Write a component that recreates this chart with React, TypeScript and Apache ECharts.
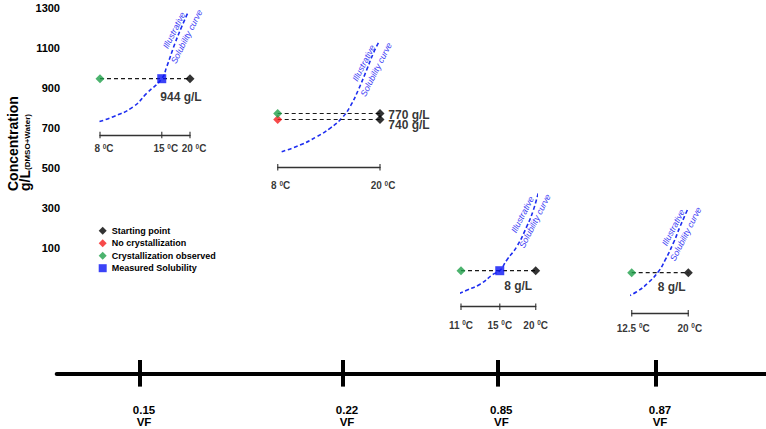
import React, { useEffect, useRef } from 'react';
import * as echarts from 'echarts';

const FONT = 'Liberation Sans, Arial, Helvetica, sans-serif';
const BLUE_CURVE = '#1f2ff0';
const BLUE_TEXT = '#3b3bf5';
const GREEN = '#1fa04a';
const RED = '#f51d1d';
const BLUE_SQ = '#0a14f5';

// ---- data ----
const concMin = 100;
const concMax = 1300;
const concStep = 200;
const vfLabels = ['0.15', '0.22', '0.85', '0.87'];
const seriesNames = ['Starting point', 'No crystallization', 'Crystallization observed', 'Measured Solubility'];

// temperatures (°C) marked on each panel's ruler
const p1Temps = [8, 15, 20];
const p2Temps = [8, 20];
const p3Temps = [11, 15, 20];
const p4Temps = [12.5, 20];

// starting concentrations (g/L) at 20 °C
const p1Start = [944];
const p2Start = [770, 740];
const p3Start = [8];
const p4Start = [8];

// [temperature, concentration]
const p1Cryst = [[8, 944]];
const p2Cryst = [[8, 770]];
const p3Cryst = [[11, 8]];
const p4Cryst = [[12.5, 8]];
const p2NoCryst = [[8, 740]];
const p1Sol = [[15, 944]];
const p3Sol = [[15, 8]];

// illustrative solubility curves
const curve1T = [7.47, 9.16, 11.23, 12.87, 15, 15.78, 17.17, 18.38, 19.66];
const curve1C = [721, 754, 804, 871, 944, 1004, 1121, 1204, 1279];
const curve2T = [8.29, 9.77, 11.34, 12.78, 14.19, 15.29, 16.47, 17.75, 18.84, 19.82];
const curve2C = [579, 612, 654, 696, 746, 804, 888, 988, 1071, 1129];
const curve3T = [10.34, 11.51, 12.81, 14.25, 15, 15.86, 17.18, 18.61, 19.62, 20.42];
const curve3C = [2.9, 4.1, 5.3, 7.3, 8, 10.1, 12.8, 16.8, 20.1, 23.6];
const curve4T = [9.39, 10.44, 11.66, 13.03, 14.35, 15.59, 16.49, 17.66, 18.67, 19.9];
const curve4C = [0.9, 1.9, 2.9, 4.2, 6.0, 8.2, 10.5, 13.9, 17.2, 20.7];

// ---- layout (pixels) ----
const panelLayout = [
  { left: 100, width: 90, top: 8, rulerY: 135, anchorC: 1300, anchorY: 7.5, cPerPx: 5, labelDx: 4, labelDy: 13.5, valueOffsets: [[-9, 18.3]], curveText: [180.4, 33.5] },
  { left: 277.7, width: 102.3, top: 8, rulerY: 167.3, anchorC: 1300, anchorY: 7.5, cPerPx: 5, labelDx: 3, labelDy: 18.4, valueOffsets: [[29, 1], [29, 5.5]], curveText: [370, 66.3] },
  { left: 461, width: 74.7, top: 185, rulerY: 306.7, anchorC: 8, anchorY: 270.7, cPerPx: 0.2, labelDx: 0, labelDy: 18.3, valueOffsets: [[-17.5, 15.3]], curveText: [528.7, 217.8] },
  { left: 631.7, width: 56.6, top: 185, rulerY: 313.3, anchorC: 8, anchorY: 272.7, cPerPx: 0.2, labelDx: 1.5, labelDy: 15, valueOffsets: [[-16.6, 14.6]], curveText: [679.5, 230.8] },
];
const vfTickX = [140, 343, 497.3, 656];

const panels = [
  { temps: p1Temps, start: p1Start, cryst: p1Cryst, noCryst: [] as number[][], sol: p1Sol, curveT: curve1T, curveC: curve1C },
  { temps: p2Temps, start: p2Start, cryst: p2Cryst, noCryst: p2NoCryst, sol: [] as number[][], curveT: curve2T, curveC: curve2C },
  { temps: p3Temps, start: p3Start, cryst: p3Cryst, noCryst: [] as number[][], sol: p3Sol, curveT: curve3T, curveC: curve3C },
  { temps: p4Temps, start: p4Start, cryst: p4Cryst, noCryst: [] as number[][], sol: [] as number[][], curveT: curve4T, curveC: curve4C },
];

function buildOption() {
  const grid: any[] = [];
  const xAxis: any[] = [];
  const yAxis: any[] = [];
  const series: any[] = [];
  const graphic: any[] = [];

  // grid 0: concentration tick labels
  grid.push({ left: 62, top: 7.5, width: 10, height: 240.5, outerBoundsMode: 'none' });
  xAxis.push({ gridIndex: 0, type: 'value', min: 0, max: 1, show: false });
  yAxis.push({
    gridIndex: 0, type: 'value', min: concMin, max: concMax, interval: concStep,
    axisLine: { show: false }, axisTick: { show: false }, splitLine: { show: false },
    axisLabel: { fontSize: 11, fontWeight: 'bold', color: '#000', fontFamily: FONT, margin: 2, formatter: (v: number) => String(v) },
  });

  panels.forEach((p, i) => {
    const L = panelLayout[i];
    const g = i + 1;
    const yMin = L.anchorC - (L.rulerY - L.anchorY) * L.cPerPx;
    const yMax = L.anchorC + (L.anchorY - L.top) * L.cPerPx;
    const tMin = p.temps[0];
    const tMax = p.temps[p.temps.length - 1];
    grid.push({ left: L.left, width: L.width, top: L.top, height: L.rulerY - L.top, outerBoundsMode: 'none' });
    xAxis.push({
      gridIndex: g, type: 'log', min: tMin, max: tMax,
      axisLine: { show: true, onZero: false, lineStyle: { color: '#333', width: 1.3 } },
      axisTick: { show: false }, axisLabel: { show: false }, splitLine: { show: false },
    });
    yAxis.push({ gridIndex: g, type: 'value', min: yMin, max: yMax, show: false, splitLine: { show: false } });
    const ax = { xAxisIndex: g, yAxisIndex: g };

    series.push({
      type: 'line', ...ax, data: p.curveT.map((t, k) => [t, p.curveC[k]]),
      smooth: true, showSymbol: false, symbol: 'none', clip: false, silent: true, z: 1,
      lineStyle: { color: BLUE_CURVE, width: 1.6, type: [4, 2.5] },
    });
    p.start.forEach((c) => {
      series.push({
        type: 'line', ...ax, data: [[tMin, c], [tMax, c]], symbol: 'none', showSymbol: false,
        silent: true, z: 2, clip: false, lineStyle: { color: '#1a1a1a', width: 1.2, type: [4, 3] },
      });
    });
    series.push({
      type: 'scatter', ...ax, data: p.temps.map((t) => [t, yMin]), symbol: 'rect', symbolSize: [1.4, 6.5],
      itemStyle: { color: '#333' }, silent: true, z: 2, clip: false,
      label: {
        show: true, position: 'inside', offset: [L.labelDx, L.labelDy],
        formatter: (pr: any) => `{n|${pr.value[0]} }{s|0}{n|C}`,
        rich: {
          n: { fontSize: 10, fontWeight: 'bold', fontFamily: FONT, color: '#000', lineHeight: 12 },
          s: { fontSize: 6.5, fontWeight: 'bold', fontFamily: FONT, color: '#000', lineHeight: 9, verticalAlign: 'top' },
        },
      },
    });
    series.push({
      name: 'Starting point', type: 'scatter', ...ax, symbol: 'diamond', symbolSize: 9, z: 4, clip: false,
      itemStyle: { color: '#000' },
      data: p.start.map((c, k) => ({
        value: [tMax, c],
        label: {
          show: true, position: 'inside', offset: L.valueOffsets[k], color: '#000',
          fontSize: 12, fontWeight: 'bold', fontFamily: FONT, formatter: `${c} g/L`,
        },
      })),
    });
    if (p.noCryst.length) {
      series.push({ name: 'No crystallization', type: 'scatter', ...ax, symbol: 'diamond', symbolSize: 9, z: 4, clip: false, itemStyle: { color: RED }, data: p.noCryst });
    }
    series.push({ name: 'Crystallization observed', type: 'scatter', ...ax, symbol: 'diamond', symbolSize: 9, z: 4, clip: false, itemStyle: { color: GREEN }, data: p.cryst });
    if (p.sol.length) {
      series.push({ name: 'Measured Solubility', type: 'scatter', ...ax, symbol: 'rect', symbolSize: 9, z: 5, clip: false, itemStyle: { color: BLUE_SQ }, data: p.sol });
    }

    graphic.push({
      type: 'text', x: L.curveText[0], y: L.curveText[1], rotation: (63 * Math.PI) / 180, silent: true,
      style: {
        text: 'Illustrative\nSolubility curve', fill: BLUE_TEXT, fontSize: 8.8, fontStyle: 'italic',
        fontFamily: FONT, align: 'center', verticalAlign: 'middle', lineHeight: 14,
      },
    });
  });

  // grid 5: VF axis
  const gv = panels.length + 1;
  grid.push({ left: 56.7, right: 0, top: 300, bottom: 429 - 373.3, outerBoundsMode: 'none' });
  const vfIdx = (v: number) => vfTickX.findIndex((x) => Math.abs(x - v) < 1);
  xAxis.push({
    gridIndex: gv, type: 'value', min: 56.7, max: 766,
    axisLine: { show: true, onZero: false, lineStyle: { color: '#000', width: 4 } },
    axisTick: { show: true, customValues: vfTickX, length: 13.3, lineStyle: { color: '#000', width: 4 } },
    axisLabel: {
      show: true, customValues: vfTickX, margin: 30,
      formatter: (v: number) => `{v|${vfLabels[vfIdx(v)]}}\n{v|VF}`,
      rich: { v: { fontSize: 11.5, fontWeight: 'bold', fontFamily: FONT, color: '#000', lineHeight: 12.5, padding: [0, 0, 0, 8] } },
    },
    splitLine: { show: false },
  });
  xAxis.push({
    gridIndex: gv, type: 'value', min: 56.7, max: 766, position: 'bottom',
    axisLine: { show: false, onZero: false },
    axisTick: { show: true, inside: true, customValues: vfTickX, length: 13.3, lineStyle: { color: '#000', width: 4 } },
    axisLabel: { show: false }, splitLine: { show: false },
  });
  yAxis.push({ gridIndex: gv, type: 'value', min: 0, max: 1, show: false });

  // y-axis title
  graphic.push({
    type: 'text', x: 7, y: 191, rotation: Math.PI / 2, silent: true,
    style: {
      text: '{t|Concentration}\n{t|g/L}{s|(DMSO+Water)}', align: 'left', verticalAlign: 'top',
      rich: {
        t: { fontSize: 14, fontWeight: 'bold', fontFamily: FONT, fill: '#000', lineHeight: 12 },
        s: { fontSize: 8, fontWeight: 'bold', fontFamily: FONT, fill: '#000', lineHeight: 8, verticalAlign: 'bottom' },
      },
    },
  });

  return {
    animation: false,
    backgroundColor: '#fff',
    grid, xAxis, yAxis, series, graphic,
    legend: {
      data: seriesNames, orient: 'vertical', left: 98.7, top: 225.7, padding: 0,
      itemWidth: 8, itemHeight: 8, itemGap: 2.5, selectedMode: false,
      textStyle: { fontSize: 9, fontWeight: 'bold', fontFamily: FONT, color: '#000', lineHeight: 10 },
    },
  };
}

export default function App() {
  const ref = useRef<HTMLDivElement>(null);
  useEffect(() => {
    if (!ref.current) return;
    const chart = echarts.init(ref.current, null, { renderer: 'svg' });
    chart.setOption(buildOption() as any);
    return () => chart.dispose();
  }, []);
  return <div ref={ref} style={{ position: 'fixed', left: 0, top: 0, width: 766, height: 429, background: '#fff' }} />;
}
